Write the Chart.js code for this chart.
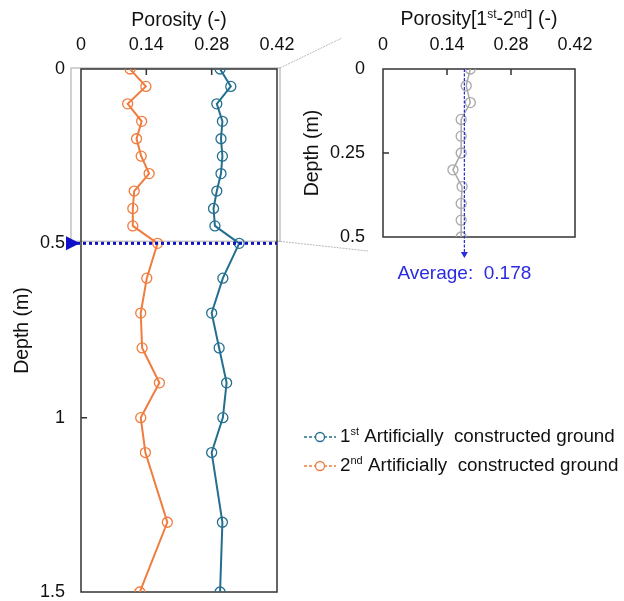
<!DOCTYPE html>
<html>
<head>
<meta charset="utf-8">
<script src="https://cdn.jsdelivr.net/npm/chart.js@4"></script>
<style>
  body { margin: 0; background: #fff; }
  canvas { position: absolute; left: 0; top: 0; }
</style>
</head>
<body>
<canvas id="main" width="624" height="601"></canvas>
<canvas id="inset" width="624" height="601"></canvas>
<script>
const depth = [0, 0.05, 0.1, 0.15, 0.2, 0.25, 0.3, 0.35, 0.4, 0.45, 0.5, 0.6, 0.7, 0.8, 0.9, 1.0, 1.1, 1.3, 1.5];
const primeiro = [0.298, 0.321, 0.291, 0.303, 0.300, 0.303, 0.300, 0.291, 0.284, 0.287, 0.339, 0.304, 0.280, 0.296, 0.312, 0.304, 0.280, 0.303, 0.298];
const segundo = [0.105, 0.139, 0.100, 0.130, 0.119, 0.129, 0.146, 0.114, 0.111, 0.111, 0.164, 0.141, 0.128, 0.131, 0.168, 0.128, 0.138, 0.185, 0.126];

const depthInset = [0, 0.05, 0.1, 0.15, 0.2, 0.25, 0.3, 0.35, 0.4, 0.45, 0.5];
const diferenca = [0.191, 0.182, 0.191, 0.171, 0.171, 0.171, 0.153, 0.173, 0.171, 0.171, 0.171];
const media = 0.178;
const zoomDepth = 0.5;

const xTicks = [0, 0.14, 0.28, 0.42];
const yTicks = [0, 0.5, 1, 1.5];
const yTicksInset = [0, 0.25, 0.5];

const corAzul = "#246f8f";
const corLaranja = "#f07c3e";
const corCinza = "#a8a8a8";
const fonte = "'Liberation Sans', Arial, sans-serif";
const fonteTitulo = { size: 19.5 };

Chart.defaults.font.family = fonte;
Chart.defaults.font.size = 18;
Chart.defaults.color = "#111";

function pontos(xs, ys) {
    return xs.map((v, i) => ({ x: v, y: ys[i] }));
}

function rotulo(v) {
    return String(v);
}

// texto com sobrescrito: partes = [[texto, sobrescrito?], ...]
function textoSup(ctx, partes, x, y, align, tam) {
    const normal = tam + "px " + fonte;
    const pequeno = Math.round(tam * 0.6) + "px " + fonte;
    let largura = 0;
    partes.forEach(p => {
        ctx.font = p[1] ? pequeno : normal;
        largura += ctx.measureText(p[0]).width;
    });
    let cx = align === "center" ? x - largura / 2 : x;
    ctx.textAlign = "left";
    ctx.textBaseline = "middle";
    partes.forEach(p => {
        ctx.font = p[1] ? pequeno : normal;
        ctx.fillText(p[0], cx, p[1] ? y - 5 : y);
        cx += ctx.measureText(p[0]).width;
    });
}

function semPadding(s) {
    s.paddingTop = 0;
    s.paddingBottom = 0;
}

function molduraETicks(chart, xIn, yIn) {
    const ctx = chart.ctx;
    const a = chart.chartArea;
    const sx = chart.scales.x;
    const sy = chart.scales.y;
    ctx.save();
    ctx.strokeStyle = "#333";
    ctx.lineWidth = 1.5;
    ctx.strokeRect(a.left, a.top, a.right - a.left, a.bottom - a.top);
    ctx.beginPath();
    xIn.forEach(v => {
        const px = sx.getPixelForValue(v);
        ctx.moveTo(px, a.top);
        ctx.lineTo(px, a.top + 6);
    });
    yIn.forEach(v => {
        const py = sy.getPixelForValue(v);
        ctx.moveTo(a.left, py);
        ctx.lineTo(a.left + 6, py);
    });
    ctx.stroke();
    ctx.restore();
}

const pluginPrincipal = {
    id: "principal",
    beforeDatasetsDraw(chart) {
        const ctx = chart.ctx;
        const a = chart.chartArea;
        const sy = chart.scales.y;
        const y0 = sy.getPixelForValue(0);
        const y5 = sy.getPixelForValue(zoomDepth);
        ctx.save();
        // retangulo cinza da area ampliada
        ctx.strokeStyle = "#c4c4c4";
        ctx.lineWidth = 1.5;
        ctx.strokeRect(a.left - 10, y0 - 1, a.right - a.left + 13, y5 - y0 - 1);
        ctx.restore();
        molduraETicks(chart, [0.14, 0.28], [1]);
    },
    afterDatasetsDraw(chart) {
        const ctx = chart.ctx;
        const a = chart.chartArea;
        const y5 = chart.scales.y.getPixelForValue(zoomDepth);
        ctx.save();
        ctx.strokeStyle = "#1010c8";
        ctx.fillStyle = "#1010c8";
        ctx.lineWidth = 3;
        ctx.setLineDash([3, 3]);
        ctx.beginPath();
        ctx.moveTo(a.left - 4, y5);
        ctx.lineTo(a.right, y5);
        ctx.stroke();
        ctx.setLineDash([]);
        ctx.beginPath();
        ctx.moveTo(a.left - 15, y5 - 7);
        ctx.lineTo(a.left - 15, y5 + 7);
        ctx.lineTo(a.left - 1, y5);
        ctx.closePath();
        ctx.fill();

        // legenda
        const itens = [
            { cor: corAzul, partes: [["1", false], ["st", true], [" Artificially  constructed ground", false]] },
            { cor: corLaranja, partes: [["2", false], ["nd", true], [" Artificially  constructed ground", false]] }
        ];
        itens.forEach((it, i) => {
            const ly = 437 + i * 29;
            ctx.strokeStyle = it.cor;
            ctx.lineWidth = 1.3;
            ctx.setLineDash([3, 2]);
            ctx.beginPath();
            ctx.moveTo(304, ly);
            ctx.lineTo(336, ly);
            ctx.stroke();
            ctx.setLineDash([]);
            ctx.beginPath();
            ctx.arc(320, ly, 4.5, 0, Math.PI * 2);
            ctx.fillStyle = "#fff";
            ctx.fill();
            ctx.stroke();
            ctx.fillStyle = "#111";
            textoSup(ctx, it.partes, 340, ly, "left", 18.8);
        });
        ctx.restore();
    }
};

const graficoPrincipal = new Chart(document.getElementById("main"), {
    type: "scatter",
    data: {
        datasets: [
            {
                label: "1st Artificially constructed ground",
                data: pontos(primeiro, depth),
                showLine: true,
                borderColor: corAzul,
                borderWidth: 2,
                pointRadius: 5,
                pointBorderWidth: 1.3,
                pointBackgroundColor: "rgba(0,0,0,0)",
                pointBorderColor: corAzul
            },
            {
                label: "2nd Artificially constructed ground",
                data: pontos(segundo, depth),
                showLine: true,
                borderColor: corLaranja,
                borderWidth: 2,
                pointRadius: 5,
                pointBorderWidth: 1.3,
                pointBackgroundColor: "rgba(0,0,0,0)",
                pointBorderColor: corLaranja
            }
        ]
    },
    options: {
        responsive: false,
        animation: false,
        layout: { padding: { left: 0, top: 0, right: 347, bottom: 9 } },
        plugins: { legend: { display: false }, tooltip: { enabled: false } },
        scales: {
            x: {
                type: "linear",
                position: "top",
                min: 0,
                max: 0.42,
                afterBuildTicks: s => { s.ticks = xTicks.map(v => ({ value: v })); },
                afterFit: s => { s.height = 69; },
                ticks: { padding: 13, callback: rotulo, maxRotation: 0 },
                grid: { display: false, drawTicks: false },
                border: { display: false },
                title: { display: true, text: "Porosity (-)", font: fonteTitulo, padding: { top: 9, bottom: 0 } }
            },
            y: {
                type: "linear",
                reverse: true,
                min: 0,
                max: 1.5,
                afterBuildTicks: s => { s.ticks = yTicks.map(v => ({ value: v })); },
                afterFit: s => { s.width = 81; semPadding(s); },
                ticks: { padding: 16, callback: rotulo },
                grid: { display: false, drawTicks: false },
                border: { display: false },
                title: { display: true, text: "Depth (m)", font: fonteTitulo, padding: { top: 11, bottom: 0 } }
            }
        }
    },
    plugins: [pluginPrincipal]
});

const pluginInset = {
    id: "inset",
    beforeDatasetsDraw(chart) {
        const ctx = chart.ctx;
        const a = chart.chartArea;
        // linhas de ligacao a partir do grafico principal
        const pa = graficoPrincipal.chartArea;
        const py = graficoPrincipal.scales.y;
        const y0 = py.getPixelForValue(0) - 1;
        const y5 = py.getPixelForValue(zoomDepth) - 2;
        ctx.save();
        ctx.strokeStyle = "#b8b8b8";
        ctx.lineWidth = 1;
        ctx.setLineDash([2, 1]);
        ctx.beginPath();
        ctx.moveTo(pa.right + 3, y0);
        ctx.lineTo(a.left - 41, a.top - 31);
        ctx.moveTo(pa.right + 3, y5);
        ctx.lineTo(a.left - 15, a.bottom + 14);
        ctx.stroke();
        ctx.restore();

        molduraETicks(chart, [0.14, 0.28], [0.25]);

        ctx.save();
        ctx.fillStyle = "#111";
        textoSup(ctx, [["Porosity[1", false], ["st", true], ["-2", false], ["nd", true], ["] (-)", false]],
            (a.left + a.right) / 2, 20, "center", 19.5);
        ctx.restore();
    },
    afterDatasetsDraw(chart) {
        const ctx = chart.ctx;
        const a = chart.chartArea;
        const px = chart.scales.x.getPixelForValue(media);
        const fim = a.bottom + 20;
        ctx.save();
        ctx.strokeStyle = "#2a2ae0";
        ctx.fillStyle = "#2a2ae0";
        ctx.lineWidth = 1.2;
        ctx.setLineDash([3, 1.5]);
        ctx.beginPath();
        ctx.moveTo(px, a.top);
        ctx.lineTo(px, fim - 4);
        ctx.stroke();
        ctx.setLineDash([]);
        ctx.beginPath();
        ctx.moveTo(px - 3.5, fim - 5);
        ctx.lineTo(px + 3.5, fim - 5);
        ctx.lineTo(px, fim + 1);
        ctx.closePath();
        ctx.fill();
        ctx.font = "19px " + fonte;
        ctx.textAlign = "center";
        ctx.textBaseline = "middle";
        ctx.fillText("Average:  " + media.toFixed(3), px, a.bottom + 37);
        ctx.restore();
    }
};

new Chart(document.getElementById("inset"), {
    type: "scatter",
    data: {
        datasets: [{
            label: "1st-2nd",
            data: pontos(diferenca, depthInset),
            showLine: true,
            borderColor: corCinza,
            borderWidth: 1.5,
            pointRadius: 5,
            pointBorderWidth: 1.3,
            pointBackgroundColor: "rgba(0,0,0,0)",
            pointBorderColor: corCinza
        }]
    },
    options: {
        responsive: false,
        animation: false,
        layout: { padding: { left: 280, top: 0, right: 49, bottom: 364 } },
        plugins: { legend: { display: false }, tooltip: { enabled: false } },
        scales: {
            x: {
                type: "linear",
                position: "top",
                min: 0,
                max: 0.42,
                afterBuildTicks: s => { s.ticks = xTicks.map(v => ({ value: v })); },
                afterFit: s => { s.height = 69; },
                ticks: { padding: 13, callback: rotulo, maxRotation: 0 },
                grid: { display: false, drawTicks: false },
                border: { display: false }
            },
            y: {
                type: "linear",
                reverse: true,
                min: 0,
                max: 0.5,
                afterBuildTicks: s => { s.ticks = yTicksInset.map(v => ({ value: v })); },
                afterFit: s => { s.width = 103; semPadding(s); },
                ticks: { padding: 18, callback: rotulo },
                grid: { display: false, drawTicks: false },
                border: { display: false },
                title: { display: true, text: "Depth (m)", font: fonteTitulo, padding: { top: 21, bottom: 0 } }
            }
        }
    },
    plugins: [pluginInset]
});
</script>
</body>
</html>
